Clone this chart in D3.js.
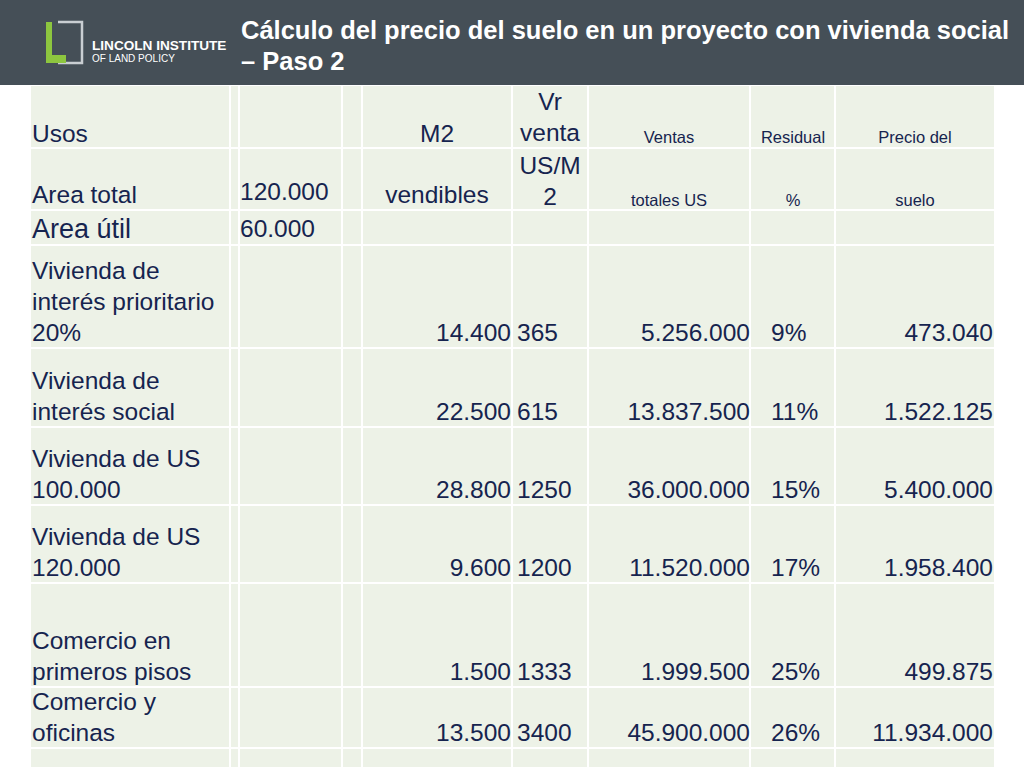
<!DOCTYPE html>
<html><head><meta charset="utf-8">
<script src="https://cdn.jsdelivr.net/npm/d3@7"></script>
<style>body{margin:0;background:#fff}svg{display:block}</style>
</head><body><svg id="c" width="1024" height="768"></svg>
<script>
const usos = [["Vivienda de","interés prioritario","20%"],["Vivienda de","interés social"],["Vivienda de US","100.000"],["Vivienda de US","120.000"],["Comercio en","primeros pisos"],["Comercio y","oficinas"]];
const m2 = ["14.400","22.500","28.800","9.600","1.500","13.500"];
const precioM2 = ["365","615","1250","1200","1333","3400"];
const ventas = ["5.256.000","13.837.500","36.000.000","11.520.000","1.999.500","45.900.000"];
const residual = ["9%","11%","15%","17%","25%","26%"];
const precioSuelo = ["473.040","1.522.125","5.400.000","1.958.400","499.875","11.934.000"];

const colEdges = [30,230,239,342,362,512,588,750,835,995];
const rowEdges = [85,148,210,245,348,427,505,583,687,748,768];
const svg = d3.select("#c");
const ink = "#16244f", font = "Liberation Sans, Arial, sans-serif";
const F = 24.5;

svg.append("rect").attr("width",1024).attr("height",85).attr("fill","#454f57");
svg.append("path").attr("d","M58,22 H82 V63 H58").attr("fill","none").attr("stroke","#c9ced2").attr("stroke-width",2.5);
svg.append("path").attr("d","M46,22 H52 V55 H66 V63 H46 Z").attr("fill","#8dc63f");
svg.append("text").attr("x",92).attr("y",50).text("LINCOLN INSTITUTE").attr("fill","#fff").attr("font-family",font).attr("font-size",13.6).attr("font-weight","bold");
svg.append("text").attr("x",92).attr("y",62).text("OF LAND POLICY").attr("fill","#fff").attr("font-family",font).attr("font-size",10);
svg.append("text").attr("x",241).attr("y",39).text("Cálculo del precio del suelo en un proyecto con vivienda social").attr("fill","#fff").attr("font-family",font).attr("font-size",25.5).attr("font-weight","bold");
svg.append("text").attr("x",241).attr("y",70).text("– Paso 2").attr("fill","#fff").attr("font-family",font).attr("font-size",25.5).attr("font-weight","bold");

const cells=[];
for(let r=0;r<rowEdges.length-1;r++)for(let c=0;c<colEdges.length-1;c++)cells.push({x0:colEdges[c],x1:colEdges[c+1],y0:rowEdges[r],y1:rowEdges[r+1]});
svg.append("g").selectAll("rect").data(cells).join("rect")
 .attr("x",d=>d.x0+1).attr("y",d=>d.y0+1).attr("width",d=>d.x1-d.x0-2).attr("height",d=>d.y1-d.y0-2).attr("fill","#edf2e7");

function txt(x,y,s,size,anchor){svg.append("text").attr("x",x).attr("y",y).text(s).attr("fill",ink).attr("font-family",font).attr("font-size",size).attr("text-anchor",anchor||"start");}
txt(32,142,"Usos",F); txt(437,142,"M2",F,"middle");
txt(550,110,"Vr",F,"middle"); txt(550,141,"venta",F,"middle");
txt(669,143,"Ventas",16.5,"middle"); txt(793,143,"Residual",16.5,"middle"); txt(915,143,"Precio del",16.5,"middle");
txt(32,203,"Area total",F); txt(240,200,"120.000",F); txt(437,203,"vendibles",F,"middle");
txt(550,174,"US/M",F,"middle"); txt(550,205,"2",F,"middle");
txt(669,206,"totales US",16.5,"middle"); txt(793,206,"%",16.5,"middle"); txt(915,206,"suelo",16.5,"middle");
txt(32,238,"Area útil",27); txt(240,237,"60.000",F);

usos.forEach((lines,i)=>{
  const by = rowEdges[i+4] - 7;
  lines.forEach((l,j)=>txt(32, by-(lines.length-1-j)*31, l, F));
  txt(511,by,m2[i],F,"end"); txt(517,by,precioM2[i],F);
  txt(750,by,ventas[i],F,"end"); txt(771,by,residual[i],F);
  txt(993,by,precioSuelo[i],F,"end");
});
</script></body></html>
